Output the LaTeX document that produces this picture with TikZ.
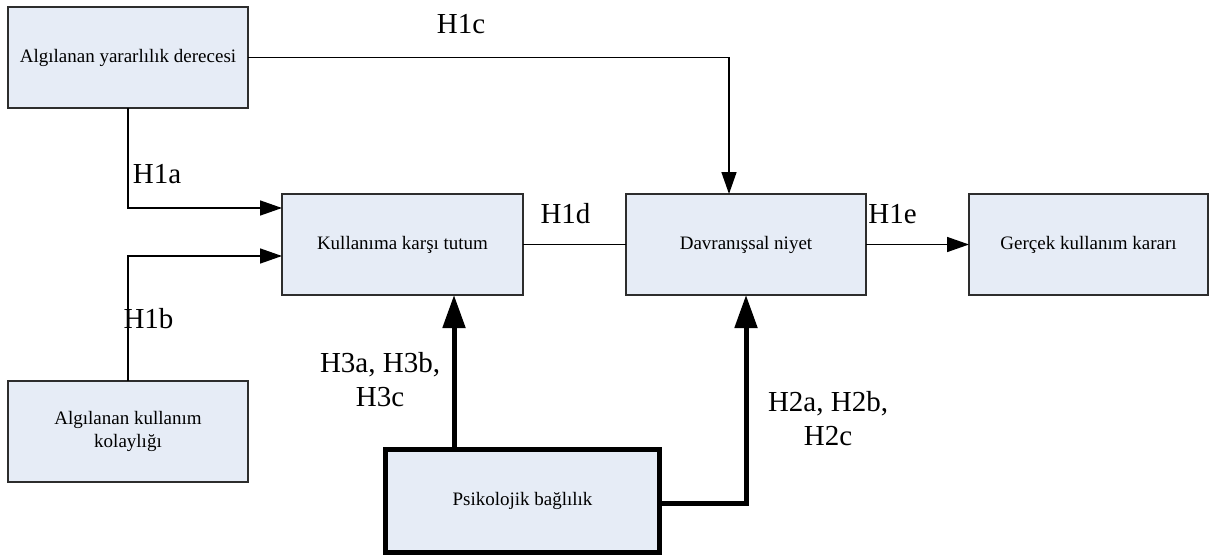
\documentclass[tikz,border=0pt]{standalone}
\usepackage{fontspec}
\setmainfont{Liberation Serif}
\usetikzlibrary{arrows.meta}
\definecolor{boxfill}{RGB}{230,236,246}
\definecolor{boxline}{RGB}{45,45,45}
\begin{document}
\begin{tikzpicture}[x=1pt,y=-1pt,
  box/.style={draw=boxline,fill=boxfill,line width=1.5pt,rectangle,
    minimum width=240pt,minimum height=101pt,inner sep=0pt,outer sep=0pt,
    align=center,font=\fontsize{19}{23}\selectfont},
  boldbox/.style={box,draw=black,line width=5pt,minimum width=274pt,minimum height=103pt},
  link/.style={draw=black,line width=1.5pt},
  arr/.style={link,-{Triangle[length=22pt,width=15pt]}},
  boldarr/.style={draw=black,line width=5pt,-{Triangle[length=33pt,width=22pt]}},
  hyp/.style={inner sep=0pt,align=center,font=\fontsize{29}{34}\selectfont}]
\useasboundingbox (0,0) rectangle (1209,557);

% constructs
\node[box] (A) at (128,57.5) {Algılanan yararlılık derecesi};
\node[box,minimum width=241pt] (K) at (402.5,244.5) {Kullanıma karşı tutum};
\node[box] (D) at (746,244.5) {Davranışsal niyet};
\node[box,minimum width=239pt] (G) at (1088.5,244.5) {Gerçek kullanım kararı};
\node[box] (E) at (128,431.5) {Algılanan kullanım\\kolaylığı};
\node[boldbox] (P) at (522.5,501) {Psikolojik bağlılık};

% hypothesised paths
\draw[arr] (A.east) -| ([xshift=-17pt]D.north);
\draw[arr] (A.south) |- ([yshift=36.5pt]K.west);
\draw[arr] (E.north) |- ([yshift=-11.5pt]K.west);
\draw[link] (K.east) -- (D.west);
\draw[arr] (D.east) -- (G.west);
\draw[boldarr] ([xshift=-68.5pt]P.north) -- ([xshift=-68.5pt]P.north |- K.south);
\draw[boldarr] ([yshift=-2pt]P.east) -| (D.south);

% path labels
\node[hyp,anchor=base] (h1c) at (461,33) {H1c};
\node[hyp,anchor=base] (h1a) at (157,183) {H1a};
\node[hyp,anchor=base] (h1b) at (148.5,328) {H1b};
\node[hyp,anchor=base] (h1d) at (565.5,223) {H1d};
\node[hyp,anchor=base] (h1e) at (892.5,223) {H1e};
\node[hyp] (h3) at (380,380) {H3a, H3b,\\H3c};
\node[hyp] (h2) at (828,419) {H2a, H2b,\\H2c};
\end{tikzpicture}
\end{document}
